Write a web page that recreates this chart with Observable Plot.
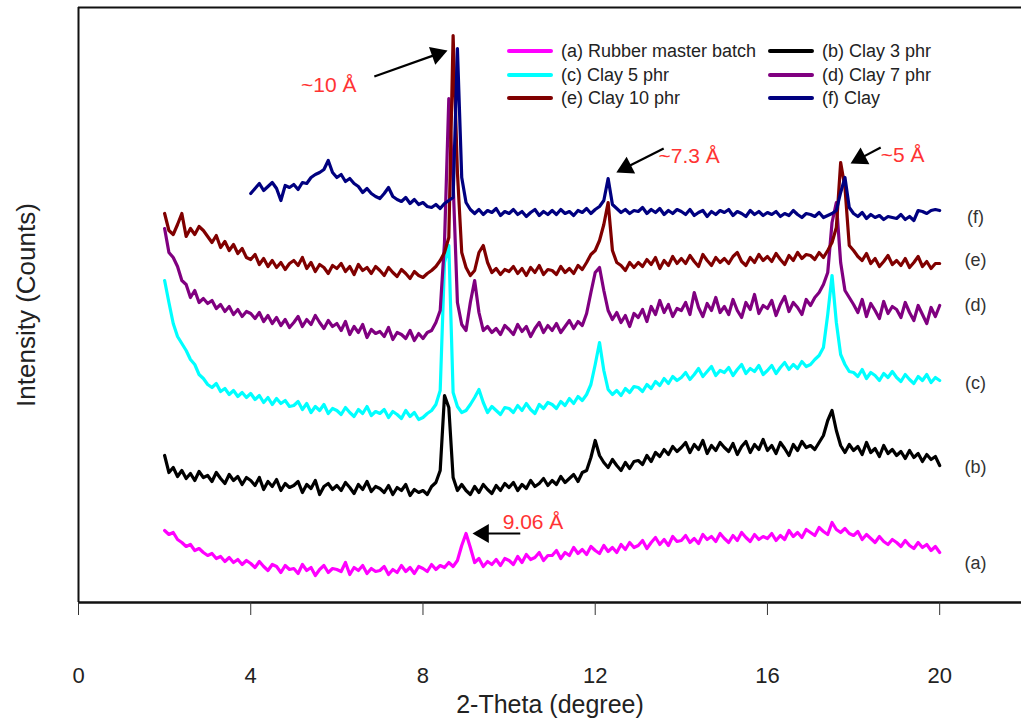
<!DOCTYPE html>
<html><head><meta charset="utf-8">
<script src="https://cdn.jsdelivr.net/npm/d3@7"></script>
<script src="https://cdn.jsdelivr.net/npm/@observablehq/plot@0.6"></script>
<style>
body{margin:0;background:#fff;font-family:"Liberation Sans",Arial,Helvetica,sans-serif}
#wrap{position:relative;width:1021px;height:724px;overflow:hidden}
.lg{position:absolute;display:flex;align-items:center;font-size:18px;color:#222;white-space:nowrap;height:22px}
.lg span.sw{display:inline-block;width:46px;height:4px;margin-right:8px;border-radius:2px}
</style></head><body><div id="wrap"></div><script>
// Series names / colours
const seriesKeys = ["a","b","c","d","e","f"];
const seriesNames = ["(a) Rubber master batch","(b) Clay 3 phr","(c) Clay 5 phr","(d) Clay 7 phr","(e) Clay 10 phr","(f) Clay"];
const seriesColors = ["#ff00ff","#000000","#00ffff","#800080","#800000","#000080"];
const seriesStart = [2, 2, 2, 2, 2, 4];   // first 2-theta of each scan
const step = 0.1;

// Intensities (arbitrary counts, offset stacked) every 0.1 degree
const serA = [72,68,70,63,60,56,58,52,54,50, 47,49,44,46,41,45,40,43,38,42, 39,35,41,36,32,38,36,30,37,33,
  34,29,38,32,35,27,33,37,30,34, 33,31,40,28,35,32,37,29,34,31, 32,36,28,33,30,37,31,35,29,36,
  34,31,38,33,37,35,40,36,42,57, 69,55,40,44,36,41,38,43,37,44, 42,38,46,40,48,43,45,50,42,47,
  47,52,44,50,47,55,49,53,48,56, 52,49,57,51,55,50,58,53,60,55, 57,62,54,60,65,58,63,57,66,61,
  62,67,60,64,59,68,63,66,61,69, 64,60,67,62,70,65,61,68,63,66, 64,69,62,67,63,72,66,70,65,73,
  70,67,75,71,68,80,73,70,74,69, 67,71,63,68,64,60,66,61,58,63, 60,56,62,57,54,60,55,58,52,56, 50];
const serB = [147,130,135,126,132,124,129,122,131,125, 127,121,130,124,119,128,122,126,118,125,
  122,117,125,113,121,116,123,112,119,115, 117,121,110,118,114,122,108,116,119,113,
  117,112,120,115,109,118,113,121,111,116, 114,110,117,108,115,112,118,107,113,110,
  112,108,116,120,132,207,195,125,112,118, 112,108,116,110,118,113,109,117,112,119,
  115,120,112,118,114,122,116,119,124,117, 122,118,126,120,124,128,121,130,132,145,
  162,147,140,135,143,137,132,140,134,141, 142,138,147,141,150,146,153,148,156,151,
  155,160,150,158,153,162,149,157,152,160, 155,151,159,148,156,161,150,158,153,163,
  152,157,149,160,154,147,158,152,161,155, 157,153,160,167,182,192,172,157,150,158,
  152,156,148,160,150,154,146,157,149,153, 147,151,144,152,145,149,141,148,143,146, 137];
const serC = [322,300,279,266,259,252,243,238,228,224, 218,215,219,211,214,208,212,206,210,205,
  209,203,207,200,205,198,204,199,202,196, 197,201,193,199,190,196,192,198,189,194,
  192,188,195,190,186,193,189,196,187,191, 189,193,185,191,188,184,192,186,190,183,
  185,189,192,198,212,340,357,210,196,190, 192,198,205,213,200,190,196,192,188,195,
  194,190,197,192,199,193,189,198,194,200, 198,194,201,197,204,199,206,202,208,218,
  238,260,232,213,208,212,207,214,210,216, 215,211,218,214,221,217,224,219,226,222,
  225,230,223,228,234,226,231,236,227,232, 230,235,227,233,238,229,234,231,237,228,
  232,237,229,235,240,233,238,234,241,236, 238,243,247,255,288,327,280,248,238,231,
  230,226,233,224,230,227,222,229,225,231, 225,221,228,223,219,226,222,228,220,225, 222];
const serD = [374,350,345,336,322,318,305,312,300,304, 299,302,294,298,291,296,288,293,286,291,
  289,284,290,281,287,279,285,277,283,275, 280,286,276,283,278,287,280,274,282,276,
  279,272,281,268,276,270,278,265,273,269, 271,266,275,263,270,268,264,272,262,269,
  264,270,272,280,292,360,504,420,300,278, 272,300,322,290,272,276,270,274,268,277,
  273,268,278,271,276,266,274,280,270,277, 272,279,270,276,282,274,281,277,289,310,
  330,335,312,292,283,290,280,287,276,289, 285,293,281,296,288,302,290,298,286,294,
  292,300,288,310,295,286,299,292,305,290, 296,288,303,292,285,300,293,308,289,297,
  294,302,287,298,306,291,300,295,288,303, 297,305,310,318,330,380,400,340,312,305,
  298,290,303,286,299,292,284,301,289,296, 293,285,300,290,282,297,288,279,295,286, 297];
const serE = [389,372,368,378,389,366,374,368,376,372, 366,360,367,355,361,352,358,349,354,345,
  343,348,338,344,336,342,335,340,333,339, 342,337,345,334,340,331,338,335,329,337,
  334,339,331,336,328,338,332,335,329,336, 332,327,335,330,326,333,329,324,331,327,
  325,329,332,336,342,350,365,567,430,350, 335,327,332,350,357,340,330,334,328,333,
  331,336,329,334,327,335,330,337,328,333, 332,328,336,330,334,329,337,333,340,348,
  352,362,378,400,352,340,337,332,340,335, 340,336,343,338,345,334,342,337,346,339,
  344,339,347,341,336,348,342,337,345,340, 344,339,346,350,341,337,345,340,348,342,
  346,341,349,343,338,347,342,350,344,348, 347,343,350,345,352,360,375,440,415,357,
  352,346,342,349,339,344,336,341,347,338, 342,337,344,335,340,346,336,341,334,339, 339];
const serF = [409,414,419,412,416,420,414,402,417,415, 418,413,420,419,425,428,430,433,442,430,
  425,428,421,424,419,416,410,414,409,406, 404,409,415,406,403,401,405,399,403,398,
  400,396,395,398,394,399,402,405,554,425, 400,393,389,393,388,392,390,394,387,391,
  389,393,388,391,386,390,393,387,391,388, 392,388,393,389,391,387,392,390,394,389,
  393,396,402,424,398,394,390,393,389,392, 391,395,389,393,390,394,388,392,389,393,
  391,388,393,387,390,392,386,391,388,392, 390,393,387,391,389,386,392,388,391,387,
  390,388,391,386,389,387,392,388,385,389, 388,386,390,385,387,389,392,410,425,395,
  389,386,390,384,388,385,387,383,386,385, 384,388,383,386,382,392,391,389,392,393, 392];
const seriesValues = [serA, serB, serC, serD, serE, serF];

// x-axis ticks
const xTicks = [0, 4, 8, 12, 16, 20];

// right-hand curve labels (2-theta, counts)
const curveLabels = ["(a)","(b)","(c)","(d)","(e)","(f)"];
const curveLabelY = [39, 135, 219, 297, 342, 385];
const curveLabelX = 20.83;

// peak annotations
const annTexts = ["~10 Å", "~7.3 Å", "~5 Å", "9.06 Å"];
const annX = [5.81, 13.47, 18.63, 9.85];
const annY = [517, 446, 447, 80];
const annAnchor = ["middle", "start", "start", "start"];
const arrowX1 = [6.87, 13.59, 18.63, 10.26];
const arrowY1 = [526, 454, 455, 69];
const arrowX2 = [8.57, 12.49, 17.93, 9.15];
const arrowY2 = [552, 430, 439, 69];

// layout constants
const W = 1021, H = 724, ML = 78, MR = 0, MT = 7, MB = 122;
const XD = [0, 21.9], YD = [0, 595];
const xs = d3.scaleLinear(XD, [ML, W - MR]);
const ys = d3.scaleLinear(YD, [H - MB, MT]);

// build tables
const rows = [];
seriesKeys.forEach((k, si) => {
  seriesValues[si].forEach((v, i) => {
    rows.push({series: k, x: +(seriesStart[si] + i * step).toFixed(2), y: v});
  });
});
const labels = curveLabels.map((t, i) => ({t, x: curveLabelX, y: curveLabelY[i]}));
const anns = annTexts.map((t, i) => ({t, x: annX[i], y: annY[i], a: annAnchor[i]}));
const HEAD_R = 7;
const arrows = annTexts.map((t, i) => {
  const p1 = [xs(arrowX1[i]), ys(arrowY1[i])], p2 = [xs(arrowX2[i]), ys(arrowY2[i])];
  const dx = p2[0] - p1[0], dy = p2[1] - p1[1], len = Math.hypot(dx, dy);
  const ux = dx / len, uy = dy / len;
  const back = HEAD_R * 1.555;
  const c = [p2[0] - ux * back, p2[1] - uy * back];
  return {x1: arrowX1[i], y1: arrowY1[i], xe: xs.invert(c[0]), ye: ys.invert(c[1]),
          hx: xs.invert(c[0]), hy: ys.invert(c[1]), rot: Math.atan2(ux, -uy) * 180 / Math.PI};
});

const FONT = '"Liberation Sans", Arial, Helvetica, sans-serif';

const chart = Plot.plot({
  width: W,
  height: H,
  marginLeft: ML,
  marginRight: MR,
  marginTop: MT,
  marginBottom: MB,
  style: {fontFamily: FONT, background: "#fff", color: "#222"},
  x: {domain: XD},
  y: {domain: YD, axis: null},
  marks: [
    ...seriesKeys.map((k, si) => Plot.line(rows.filter(d => d.series === k), {
      x: "x", y: "y", stroke: seriesColors[si], strokeWidth: 3.2, strokeLinejoin: "round", strokeLinecap: "round"
    })),
    Plot.ruleY([0], {stroke: "#111", strokeWidth: 2.5}),
    Plot.ruleY([595], {stroke: "#111", strokeWidth: 2}),
    Plot.ruleX([0], {stroke: "#111", strokeWidth: 2}),
    Plot.axisX({ticks: xTicks, tickSize: 13, tickPadding: 52, fontSize: 22, label: null, stroke: "#333"}),
    Plot.text(["2-Theta (degree)"], {frameAnchor: "bottom", dy: 110, fontSize: 25, fill: "#222"}),
    Plot.text(["Intensity (Counts)"], {frameAnchor: "left", rotate: -90, dx: -52, textAnchor: "middle", fontSize: 26, fill: "#222"}),
    Plot.text(labels, {x: "x", y: "y", text: "t", fontSize: 18, fill: "#333"}),
    Plot.link(arrows, {x1: "x1", y1: "y1", x2: "xe", y2: "ye", stroke: "#000", strokeWidth: 2.2}),
    Plot.dot(arrows, {x: "hx", y: "hy", symbol: "triangle", r: HEAD_R, rotate: "rot", fill: "#000", stroke: "none"}),
    Plot.text(anns.filter(d => d.a === "middle"), {x: "x", y: "y", text: "t", textAnchor: "middle", fontSize: 21, fill: "#ff3333"}),
    Plot.text(anns.filter(d => d.a === "start"), {x: "x", y: "y", text: "t", textAnchor: "start", fontSize: 21, fill: "#ff3333"})
  ]
});
const wrap = document.getElementById("wrap");
wrap.appendChild(chart);

// legend (overlay, inside plot area)
const lgLeft = [507, 768];
const lgTop = [51, 75, 98];
seriesNames.forEach((name, i) => {
  const div = document.createElement("div");
  div.className = "lg";
  div.style.left = lgLeft[i % 2] + "px";
  div.style.top = (lgTop[Math.floor(i / 2)] - 11) + "px";
  div.innerHTML = `<span class="sw" style="background:${seriesColors[i]}"></span>${name}`;
  wrap.appendChild(div);
});
</script></body></html>
